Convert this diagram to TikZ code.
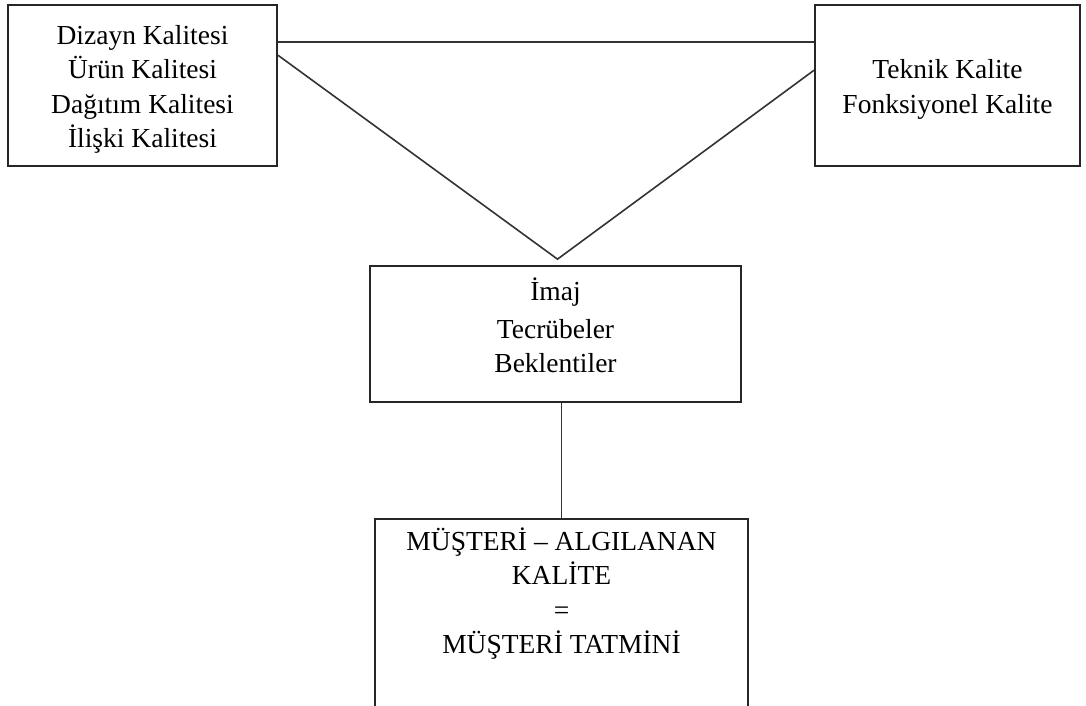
\documentclass[tikz,border=0pt]{standalone}
\usepackage{fontspec}
\setmainfont{Liberation Serif}
\newcommand\shiftlines[2]{\raisebox{#1}[\height][\depth]{\begin{tabular}{@{}c@{}}#2\end{tabular}}}
\begin{document}
\begin{tikzpicture}[x=1pt,y=-1pt,
  box/.style={draw=black!85,line width=1.7pt,rectangle,align=center,inner sep=0pt,
    font=\fontsize{27.5}{34.5}\selectfont},
  link/.style={draw=black!80,line width=1.6pt}]
\useasboundingbox[fill=white] (0,0) rectangle (1086,706);
\node[box,minimum width=269pt,minimum height=161pt] (b1) at (142.5,85.5)
  {\shiftlines{-3.5pt}{Dizayn Kalitesi\\Ürün Kalitesi\\Dağıtım Kalitesi\\İlişki Kalitesi}};
\node[box,minimum width=265pt,minimum height=161pt] (b2) at (947.5,85.5)
  {\shiftlines{-3.5pt}{Teknik Kalite\\Fonksiyonel Kalite}};
\node[box,minimum width=371pt,minimum height=136pt] (b3) at (555.5,334)
  {\shiftlines{4pt}{İmaj\\[3pt]Tecrübeler\\Beklentiler}};
\node[box,draw=none,minimum width=371pt,minimum height=150pt] (b4) at (561.5,595)
  {\shiftlines{0pt}{MÜŞTERİ – ALGILANAN\\KALİTE\\=\\MÜŞTERİ TATMİNİ}};
\coordinate (bot) at (0,715);
\draw[box] (b4.north west |- bot) -- (b4.north west) -- (b4.north east) -- (b4.north east |- bot);
\coordinate (apex) at ([xshift=2pt,yshift=6pt]b3.north);
\draw[link] ([yshift=-38pt]b1.north east) -- ([yshift=-38pt]b2.north west);
\draw[link] ([yshift=-51pt]b1.north east) -- (apex) -- ([yshift=-66pt]b2.north west);
\draw[link] (b4.north |- b3.south) -- (b4.north);
\end{tikzpicture}
\end{document}
